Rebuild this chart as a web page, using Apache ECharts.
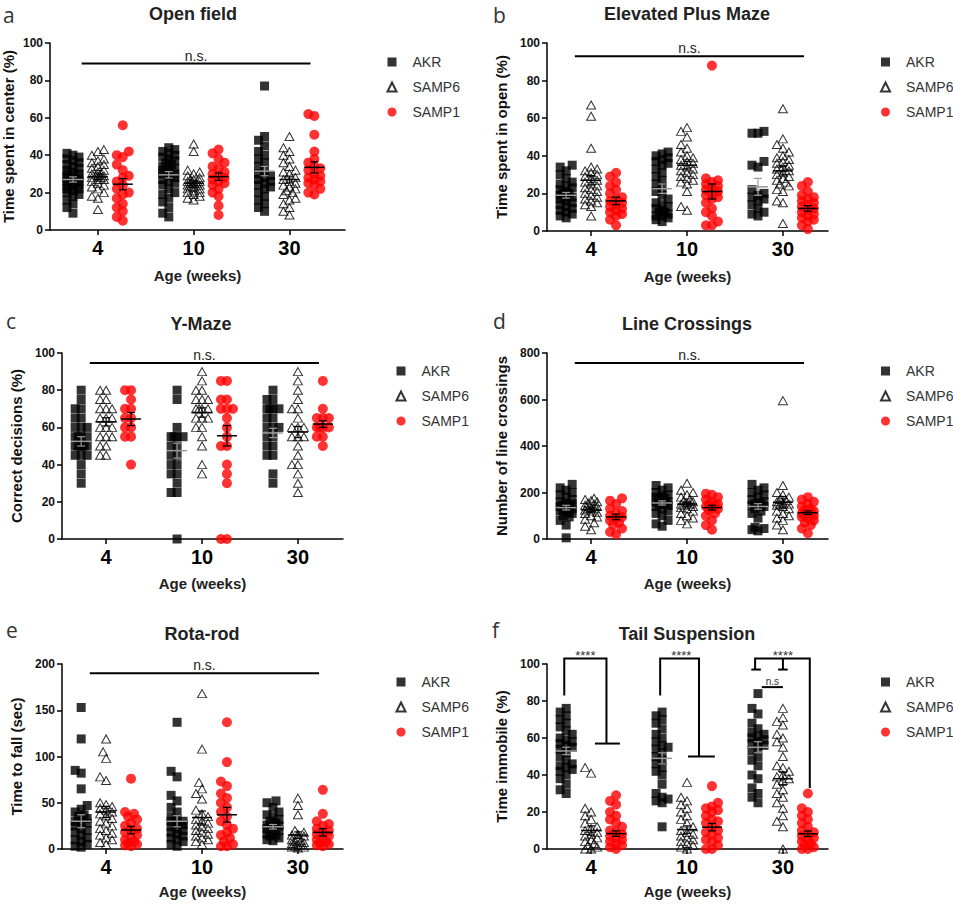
<!DOCTYPE html>
<html><head><meta charset="utf-8">
<script src="https://cdn.jsdelivr.net/npm/echarts@6/dist/echarts.min.js"></script>
<style>html,body{margin:0;padding:0;background:#fff}#c{width:953px;height:905px}</style>
</head><body><div id="c"></div>
<script>
// ---------- categories ----------
const ageLabels = ['4', '10', '30'];
const groupNames = ['AKR', 'SAMP6', 'SAMP1'];

// ---------- a: Open field (per group: [4w, 10w, 30w]) ----------
const of_AKR = [
  [9,12,14,16,18,19,20,21,22,22,23,24,24,25,26,26,27,28,28,29,30,30,31,32,33,34,35,36,37,38,39,40,41],
  [7,9,12,15,17,19,20,22,24,25,26,27,28,29,30,30,31,32,33,33,34,35,36,37,38,39,40,41,42,43,44],
  [77,50,48,45,42,40,38,36,34,32,30,29,28,27,26,25,24,23,22,20,18,16,14,12,10]
];
const of_SAMP6 = [
  [11,17,18,20,22,23,24,25,26,27,27,28,28,29,29,30,30,31,32,33,34,35,36,37,38,40,42,43],
  [46,42,32,31,30,29,28,27,27,26,26,25,25,25,24,24,23,23,22,22,21,20,20,19,18,17,16],
  [50,44,42,40,38,36,34,32,31,30,28,27,26,25,24,23,22,21,20,19,17,16,14,12,10,8]
];
const of_SAMP1 = [
  [56,42,40,39,35,32,29,28,26,24,22,20,19,17,14,12,10,7,5],
  [43,41,38,36,34,33,31,30,29,28,27,26,25,24,22,20,18,13,8],
  [62,61,51,42,38,36,34,33,32,30,29,28,27,26,25,24,22,20,19]
];
const of_mean = [[27, 29.5, 31.5], [28.5, 25, 27], [24.5, 28.5, 33.5]];
const of_sem  = [[1.4, 1.7, 2.5], [1.5, 1.2, 1.8], [3, 2, 3]];

// ---------- b: Elevated Plus Maze ----------
const epm_AKR = [
  [7,8,9,10,11,12,13,14,15,16,17,18,18,19,20,20,21,22,23,24,25,26,28,30,32,34,35],
  [5,6,7,8,8,9,10,10,11,12,13,14,15,17,19,21,23,25,27,29,31,33,35,36,37,38,39,40,41,42],
  [53,52,52,37,35,34,22,20,19,18,17,16,14,12,10,9,8]
];
const epm_SAMP6 = [
  [67,61,44,34,33,32,31,30,29,28,27,26,25,24,23,22,21,20,19,18,17,16,15,14,13,8],
  [55,53,50,46,44,42,40,39,38,37,36,35,34,33,32,31,30,29,28,27,26,25,21,13,11],
  [65,49,46,44,42,40,39,38,37,36,35,34,33,32,31,30,29,28,27,26,25,24,22,21,16,15,4]
];
const epm_SAMP1 = [
  [31,29,26,24,22,20,18,17,16,15,14,13,12,11,10,9,8,6,3],
  [88,28,27,26,25,24,23,22,21,20,19,18,17,15,12,10,8,5,3,3],
  [26,24,21,19,18,17,16,15,14,13,12,11,10,9,8,7,6,5,3,1]
];
const epm_mean = [[19, 22.5, 23.5], [27, 35, 32], [16, 21, 12]];
const epm_sem  = [[1.5, 2.5, 4.5], [2.5, 2, 2.2], [2, 4, 1.5]];

// ---------- c: Y-Maze ----------
const ym_AKR = [
  [80,75,70,70,65,65,60,60,60,55,55,55,55,50,50,50,50,50,50,45,45,45,40,35,30],
  [80,75,60,55,55,55,55,50,50,45,45,40,40,35,35,30,25,25,0],
  [80,75,75,70,70,70,70,65,65,60,60,60,55,55,50,50,45,45,35,30]
];
const ym_SAMP6 = [
  [80,80,75,75,70,70,70,65,65,65,60,60,60,55,55,55,50,50,45,45],
  [90,85,80,80,75,75,75,70,70,70,70,65,65,65,60,60,55,50,40,35],
  [90,85,80,75,70,70,65,60,60,60,55,55,55,50,45,40,40,35,30,25]
];
const ym_SAMP1 = [
  [80,80,75,70,70,65,65,60,60,55,55,40],
  [85,85,75,75,70,70,70,65,60,55,50,50,40,35,30,0,0],
  [85,70,65,65,65,60,60,60,60,55,55,50]
];
const ym_mean = [[52.5, 47.5, 57], [63, 68, 57.5], [64.5, 55.5, 61.8]];
const ym_sem  = [[2.5, 4, 2.5], [2.2, 2.5, 3], [3.5, 5.5, 1.8]];

// ---------- d: Line Crossings ----------
const lc_AKR = [
  [5,60,80,95,100,110,115,120,125,130,130,135,140,140,145,150,155,160,170,180,190,200,210,220,235],
  [55,65,80,100,110,120,130,140,145,150,150,155,160,160,165,170,175,180,185,190,200,210,220,230],
  [35,40,45,50,90,110,120,130,140,140,145,150,150,155,160,170,180,190,200,210,220,235]
];
const lc_SAMP6 = [
  [40,55,70,85,95,100,110,115,120,125,130,130,135,140,145,150,155,160,165,170,175],
  [240,210,200,190,180,170,165,160,155,150,150,145,140,135,130,120,110,100,90,80,65],
  [595,230,200,190,180,170,165,160,155,150,150,145,140,130,120,110,100,90,80,60,40]
];
const lc_SAMP1 = [
  [175,165,150,130,120,110,100,95,90,80,70,60,45,30,20],
  [195,190,180,170,160,150,150,145,140,135,130,125,110,100,80,60,40],
  [180,170,160,150,140,130,125,120,115,110,110,105,100,95,90,80,70,60,45,25]
];
const lc_mean = [[135, 155, 140], [125, 150, 158], [95, 135, 113]];
const lc_sem  = [[10, 9, 12], [8, 8, 25], [12, 10, 8]];

// ---------- e: Rota-rod ----------
const rr_AKR = [
  [153,119,85,82,65,47,43,40,37,35,33,30,30,28,25,22,20,18,15,12,10,8,5,3,2],
  [137,84,78,58,52,45,40,35,32,30,30,28,26,24,22,20,18,16,14,12,10,8,5,3],
  [52,50,45,40,37,35,32,30,28,26,25,24,22,20,18,16,15,14,12,10,9]
];
const rr_SAMP6 = [
  [119,105,98,78,74,50,48,46,44,42,40,38,36,33,30,28,25,22,20,17,15,12,10,7,5],
  [168,108,72,65,60,54,42,38,35,32,30,28,26,24,22,20,18,16,14,12,10,8,5],
  [55,47,37,20,18,16,15,14,12,10,9,8,7,6,5,4,3,2,2,1]
];
const rr_SAMP1 = [
  [76,40,38,35,32,28,25,22,20,18,15,12,10,8,6,5,4,3],
  [137,94,73,68,60,55,50,45,40,35,30,26,22,18,15,12,8,5,3,3],
  [64,38,30,27,25,22,20,18,16,14,12,10,8,6,5,4,3]
];
const rr_mean = [[30, 30, 24], [40, 34, 15], [20.5, 37, 18]];
const rr_sem  = [[7, 6, 2.5], [6, 7, 3.5], [4, 8, 4]];

// ---------- f: Tail Suspension ----------
const ts_AKR = [
  [76,74,72,70,68,66,64,62,60,59,58,57,56,55,54,52,50,48,46,45,44,43,42,40,38,35,32,30],
  [74,72,70,68,65,62,60,58,56,55,54,52,50,48,46,44,42,40,35,30,28,27,26,25,12],
  [84,76,73,68,65,63,62,61,60,59,58,57,56,55,53,50,48,45,40,38,33,30,28,25]
];
const ts_SAMP6 = [
  [44,41,22,20,18,16,14,12,11,10,9,8,7,6,5,4,3,2,1,0,0],
  [36,28,26,24,22,20,18,16,14,12,10,9,8,7,6,5,4,3,2,1,0],
  [76,71,69,67,62,60,58,55,50,45,44,42,40,39,38,37,35,32,30,28,25,22,18,15,12,0]
];
const ts_SAMP1 = [
  [29,26,24,20,18,16,14,12,10,9,8,7,6,5,4,3,2,1,0],
  [34,25,23,22,21,20,18,16,15,14,12,10,9,8,6,5,4,2,0,0],
  [30,22,20,18,16,14,12,10,9,8,7,6,5,4,3,2,1,0,0]
];
const ts_mean = [[53, 49, 55], [10, 10.5, 38], [8.3, 11.8, 8.2]];
const ts_sem  = [[2, 3, 3], [2.5, 2, 3.5], [1.5, 2, 1.5]];

// significance annotations (data units)
const nsLevels = [89, 93, 94.6, 757, 190];
const nsSpan = [-0.17, 2.22];
const tsBrackets = [
  [[-0.28,83],[-0.28,103],[0.16,103],[0.16,57]],
  [[0.04,57],[0.30,57]],
  [[0.72,83],[0.72,103],[1.125,103],[1.125,50]],
  [[1.01,50],[1.29,50]],
  [[1.71,97],[1.71,103],[2.28,103],[2.28,33]],
  [[1.67,97],[1.77,97]],
  [[2.0,97],[2.0,103]],
  [[1.95,97],[2.05,97]],
  [[1.78,87.5],[2.0,87.5]]
];
const tsLabels = [['****', -0.06, 103], ['****', 0.94, 103], ['****', 2.0, 103], ['n.s', 1.89, 87.5]];

// ---------- layout ----------
const FONT = '"Liberation Sans", Arial, sans-serif';
const panels = [
  {letter:'a', title:'Open field', yName:'Time spent in center (%)', d:[of_AKR,of_SAMP6,of_SAMP1], mean:of_mean, sem:of_sem, ymax:100, itv:20,
   grid:{left:50, top:43, width:295, height:187}, xmin:-0.5, xmax:2.58, yGap:34, xGap:38, tx:193, ty:14, lx:3, ly:15},
  {letter:'b', title:'Elevated Plus Maze', yName:'Time spent in open (%)', d:[epm_AKR,epm_SAMP6,epm_SAMP1], mean:epm_mean, sem:epm_sem, ymax:100, itv:20,
   grid:{left:547, top:43, width:281, height:188}, xmin:-0.46, xmax:2.47, yGap:38, xGap:38, tx:687, ty:14, lx:493, ly:15},
  {letter:'c', title:'Y-Maze', yName:'Correct decisions (%)', d:[ym_AKR,ym_SAMP6,ym_SAMP1], mean:ym_mean, sem:ym_sem, ymax:100, itv:20,
   grid:{left:62, top:353, width:281, height:186}, xmin:-0.46, xmax:2.47, yGap:38, xGap:37, tx:201, ty:324, lx:6, ly:321},
  {letter:'d', title:'Line Crossings', yName:'Number of line crossings', d:[lc_AKR,lc_SAMP6,lc_SAMP1], mean:lc_mean, sem:lc_sem, ymax:800, itv:200,
   grid:{left:547, top:353, width:281, height:186}, xmin:-0.46, xmax:2.47, yGap:38, xGap:37, tx:687, ty:324, lx:493, ly:321},
  {letter:'e', title:'Rota-rod', yName:'Time to fall (sec)', d:[rr_AKR,rr_SAMP6,rr_SAMP1], mean:rr_mean, sem:rr_sem, ymax:200, itv:50,
   grid:{left:62, top:664, width:281, height:185}, xmin:-0.46, xmax:2.47, yGap:38, xGap:35, tx:202, ty:634, lx:6, ly:630},
  {letter:'f', title:'Tail Suspension', yName:'Time immobile (%)', d:[ts_AKR,ts_SAMP6,ts_SAMP1], mean:ts_mean, sem:ts_sem, ymax:100, itv:20,
   grid:{left:547, top:664, width:281, height:185}, xmin:-0.46, xmax:2.47, yGap:38, xGap:35, tx:687, ty:634, lx:492, ly:630}
];
const groupOffset = [-0.26, 0, 0.26];
const symbols = [
  {symbol:'rect', symbolSize:9, itemStyle:{color:'#000'}},
  {symbol:'triangle', symbolSize:[9,8], itemStyle:{color:'rgba(255,255,255,0)', borderColor:'#000', borderWidth:1}},
  {symbol:'circle', symbolSize:10, itemStyle:{color:'#ff0000'}}
];

// beeswarm layout in pixel space (deterministic)
function swarmOffsets(vals, pxPerY, d, step, maxOff) {
  const idx = vals.map((v, i) => i).sort((a, b) => vals[a] - vals[b]);
  const placed = [], out = new Array(vals.length);
  for (const i of idx) {
    const y = vals[i] * pxPerY;
    let best = 0, bestD = -1, found = false;
    for (let k = 0; k * step <= maxOff && !found; k++) {
      const cands = k === 0 ? [0] : [-k * step, k * step];
      for (const x of cands) {
        let md = Infinity;
        for (const p of placed) { const dx = x - p[0], dy = y - p[1]; md = Math.min(md, Math.hypot(dx, dy)); }
        if (md >= d) { best = x; found = true; break; }
        if (md > bestD) { bestD = md; best = x; }
      }
    }
    placed.push([best, y]); out[i] = best;
  }
  return out;
}

const option = {
  animation: false,
  textStyle: {fontFamily: FONT},
  grid: [], xAxis: [], yAxis: [], series: [], graphic: [],
  legend: [[381.5,50],[875,50],[390.5,359],[875,359],[390.5,670],[875,670]].map(([l,t]) => ({
    left: l, top: t, orient: 'vertical', itemWidth: 9, itemHeight: 9, itemGap: 11,
    selectedMode: false, data: groupNames,
    textStyle: {fontSize: 14, color: '#333', fontFamily: FONT, padding: [0, 0, 0, 11]}
  }))
};

panels.forEach((p, i) => {
  option.grid.push(Object.assign({containLabel: false}, p.grid));
  const pxPerY = p.grid.height / p.ymax;
  const pxPerX = p.grid.width / (p.xmax - p.xmin);
  option.xAxis.push({
    gridIndex: i, type: 'value', min: p.xmin, max: p.xmax,
    axisLine: {show: true, onZero: false, lineStyle: {color: '#000', width: 1.5}},
    axisTick: {show: true, customValues: [0, 1, 2], length: 5, lineStyle: {color: '#000', width: 1.5}},
    axisLabel: {customValues: [0, 1, 2], formatter: v => ageLabels[Math.round(v)], fontSize: 20, fontWeight: 'bold', color: '#000', margin: 8, fontFamily: FONT},
    splitLine: {show: false},
    name: 'Age (weeks)', nameLocation: 'middle', nameGap: p.xGap,
    nameTextStyle: {fontSize: 15, fontWeight: 'bold', color: '#222', fontFamily: FONT}
  });
  option.yAxis.push({
    gridIndex: i, type: 'value', min: 0, max: p.ymax, interval: p.itv,
    axisLine: {show: true, onZero: false, lineStyle: {color: '#000', width: 1.5}},
    axisTick: {show: true, length: 5, lineStyle: {color: '#000', width: 1.5}},
    axisLabel: {fontSize: 12, fontWeight: 'bold', color: '#111', margin: 7, fontFamily: FONT},
    splitLine: {show: false},
    name: p.yName, nameLocation: 'middle', nameGap: p.yGap,
    nameTextStyle: {fontSize: 15, fontWeight: 'bold', color: '#111', fontFamily: FONT}
  });
  // scatter points
  groupNames.forEach((gn, g) => {
    const pts = [];
    p.d[g].forEach((vals, a) => {
      const offs = swarmOffsets(vals, pxPerY, 7, 3, 6);
      vals.forEach((v, k) => pts.push([a + groupOffset[g] + offs[k] / pxPerX, v]));
    });
    option.series.push(Object.assign({
      name: gn, type: 'scatter', xAxisIndex: i, yAxisIndex: i, data: pts, z: 2,
      emphasis: {disabled: true}, silent: true
    }, JSON.parse(JSON.stringify(symbols[g]))));
  });
  // mean +/- SEM
  const eb = [];
  for (let g = 0; g < 3; g++) for (let a = 0; a < 3; a++) eb.push([a + groupOffset[g], p.mean[g][a], p.sem[g][a], g]);
  option.series.push({
    name: 'meanSEM' + i, type: 'custom', xAxisIndex: i, yAxisIndex: i, data: eb, z: 5, silent: true,
    encode: {x: 0, y: 1},
    renderItem: (params, api) => {
      const x = api.value(0), m = api.value(1), s = api.value(2), g = api.value(3);
      const c = api.coord([x, m]), t = api.coord([x, m + s]), b = api.coord([x, m - s]);
      const col = g === 0 ? '#9a9a9a' : '#000';
      const st = w => ({stroke: col, lineWidth: w, fill: null});
      return {type: 'group', children: [
        {type: 'line', shape: {x1: c[0] - 10, y1: c[1], x2: c[0] + 10, y2: c[1]}, style: st(1.5)},
        {type: 'line', shape: {x1: c[0], y1: t[1], x2: c[0], y2: b[1]}, style: st(1.2)},
        {type: 'line', shape: {x1: c[0] - 4, y1: t[1], x2: c[0] + 4, y2: t[1]}, style: st(1.2)},
        {type: 'line', shape: {x1: c[0] - 4, y1: b[1], x2: c[0] + 4, y2: b[1]}, style: st(1.2)}
      ]};
    }
  });
  // n.s. line
  if (i < 5) {
    option.series.push({
      name: 'ns' + i, type: 'custom', xAxisIndex: i, yAxisIndex: i, silent: true, z: 6,
      data: [[nsSpan[0], nsLevels[i], nsSpan[1]]], encode: {x: 0, y: 1},
      renderItem: (params, api) => {
        const a = api.coord([api.value(0), api.value(1)]);
        const b = api.coord([api.value(2), api.value(1)]);
        return {type: 'group', children: [
          {type: 'line', shape: {x1: a[0], y1: a[1], x2: b[0], y2: b[1]}, style: {stroke: '#000', lineWidth: 2}},
          {type: 'text', x: (a[0] + b[0]) / 2, y: a[1] - 8, style: {text: 'n.s.', fontSize: 14, fontFamily: FONT, fill: '#222', align: 'center', verticalAlign: 'middle'}}
        ]};
      }
    });
  }
  option.graphic.push({type: 'text', x: p.tx, y: p.ty, silent: true,
    style: {text: p.title, font: 'bold 18px ' + FONT, fill: '#222', align: 'center', verticalAlign: 'middle'}});
  option.graphic.push({type: 'text', x: p.lx, y: p.ly, silent: true,
    style: {text: p.letter, font: '21px "Open Sans", sans-serif', fill: '#333', align: 'left', verticalAlign: 'middle'}});
});

// panel f significance brackets
option.series.push({
  name: 'tsBrackets', type: 'custom', xAxisIndex: 5, yAxisIndex: 5, silent: true, z: 6,
  data: tsBrackets.map((b, k) => [b[0][0], b[0][1], k]), encode: {x: 0, y: 1},
  renderItem: (params, api) => {
    const b = tsBrackets[api.value(2)];
    return {type: 'polyline', shape: {points: b.map(pt => api.coord(pt))}, style: {stroke: '#000', lineWidth: 2, fill: null}};
  }
});
option.series.push({
  name: 'tsLabels', type: 'custom', xAxisIndex: 5, yAxisIndex: 5, silent: true, z: 6,
  data: tsLabels.map((l, k) => [l[1], l[2], k]), encode: {x: 0, y: 1},
  renderItem: (params, api) => {
    const l = tsLabels[api.value(2)];
    const c = api.coord([l[1], l[2]]);
    const small = l[0] === 'n.s';
    return {type: 'text', x: c[0], y: c[1] - (small ? 6 : 3), style: {text: l[0], fontSize: small ? 10 : 13, fontFamily: FONT, fill: '#333', align: 'center', verticalAlign: 'middle'}};
  }
});

const chart = echarts.init(document.getElementById('c'), null, {renderer: 'svg'});
chart.setOption(option);
</script></body></html>
